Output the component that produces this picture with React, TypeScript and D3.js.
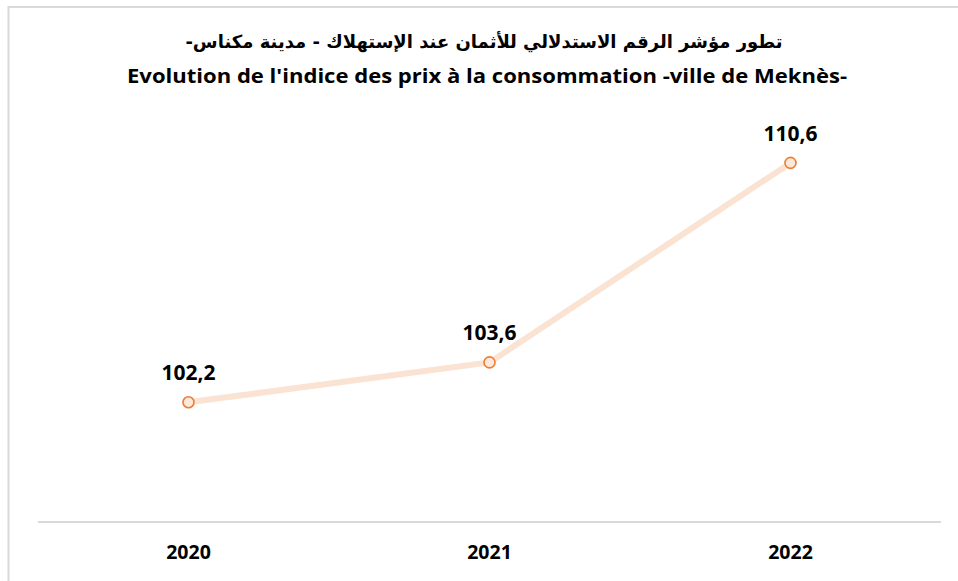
import React, { useEffect, useRef } from 'react';
import * as d3 from 'd3';

const years = ['2020', '2021', '2022'];
const values = [102.2, 103.6, 110.6];
const valueLabels = ['102,2', '103,6', '110,6'];
const titleAr = 'تطور مؤشر الرقم الاستدلالي للأثمان عند الإستهلاك - مدينة مكناس-';
const titleFr = "Evolution de l'indice des prix à la consommation -ville de Meknès-";

const W = 958;
const H = 581;

const App = () => {
  const svgRef = useRef<SVGSVGElement>(null);

  useEffect(() => {
    const svg = d3.select(svgRef.current);
    svg.selectAll('*').remove();

    // outer frame (chart is cropped on right/bottom)
    svg.append('rect')
      .attr('x', 8.5).attr('y', 7)
      .attr('width', W).attr('height', H)
      .attr('fill', '#fff')
      .attr('stroke', '#d9d9d9')
      .attr('stroke-width', 2);

    const x = d3.scaleBand().domain(years).range([38, 941]);
    const y = d3.scaleLinear().domain([98, 112]).range([522, 123]);

    // titles
    svg.append('text')
      .attr('x', 484).attr('y', 48)
      .attr('text-anchor', 'middle')
      .attr('direction', 'rtl')
      .style('font-family', '"DejaVu Sans", sans-serif')
      .style('font-weight', 'bold')
      .style('font-size', '18px')
      .attr('fill', '#000')
      .text(titleAr);

    svg.append('text')
      .attr('x', 487).attr('y', 83)
      .attr('text-anchor', 'middle')
      .attr('textLength', 720)
      .attr('lengthAdjust', 'spacingAndGlyphs')
      .style('font-family', '"Open Sans", sans-serif')
      .style('font-weight', 'bold')
      .style('font-size', '20px')
      .attr('fill', '#000')
      .text(titleFr);

    // category axis
    svg.append('line')
      .attr('x1', x.range()[0]).attr('x2', x.range()[1])
      .attr('y1', y.range()[0]).attr('y2', y.range()[0])
      .attr('stroke', '#d9d9d9')
      .attr('stroke-width', 2);

    svg.append('g')
      .selectAll('text')
      .data(years)
      .join('text')
      .attr('x', d => x(d)! + x.bandwidth() / 2)
      .attr('y', 559)
      .attr('text-anchor', 'middle')
      .style('font-family', '"Open Sans", sans-serif')
      .style('font-weight', 'bold')
      .style('font-size', '19.5px')
      .attr('fill', '#000')
      .text(d => d);

    const pts = years.map((yr, i) => ({ yr, v: values[i], label: valueLabels[i] }));
    const cx = (d: { yr: string }) => x(d.yr)! + x.bandwidth() / 2;

    const line = d3.line<{ yr: string; v: number }>()
      .x(d => cx(d))
      .y(d => y(d.v));

    svg.append('path')
      .datum(pts)
      .attr('fill', 'none')
      .attr('stroke', '#fbe3d3')
      .attr('stroke-width', 6)
      .attr('stroke-linecap', 'round')
      .attr('d', line);

    svg.append('g')
      .selectAll('circle')
      .data(pts)
      .join('circle')
      .attr('cx', d => cx(d))
      .attr('cy', d => y(d.v))
      .attr('r', 5.5)
      .attr('fill', '#fde9dc')
      .attr('stroke', '#ed7d31')
      .attr('stroke-width', 1.6);

    svg.append('g')
      .selectAll('text')
      .data(pts)
      .join('text')
      .attr('x', d => cx(d))
      .attr('y', d => y(d.v) - 22)
      .attr('text-anchor', 'middle')
      .style('font-family', '"Open Sans", sans-serif')
      .style('font-weight', 'bold')
      .style('font-size', '21px')
      .attr('fill', '#000')
      .text(d => d.label);
  }, []);

  return (
    <svg
      ref={svgRef}
      width={W}
      height={H}
      style={{ position: 'absolute', left: 0, top: 0, display: 'block' }}
    />
  );
};

export default App;
